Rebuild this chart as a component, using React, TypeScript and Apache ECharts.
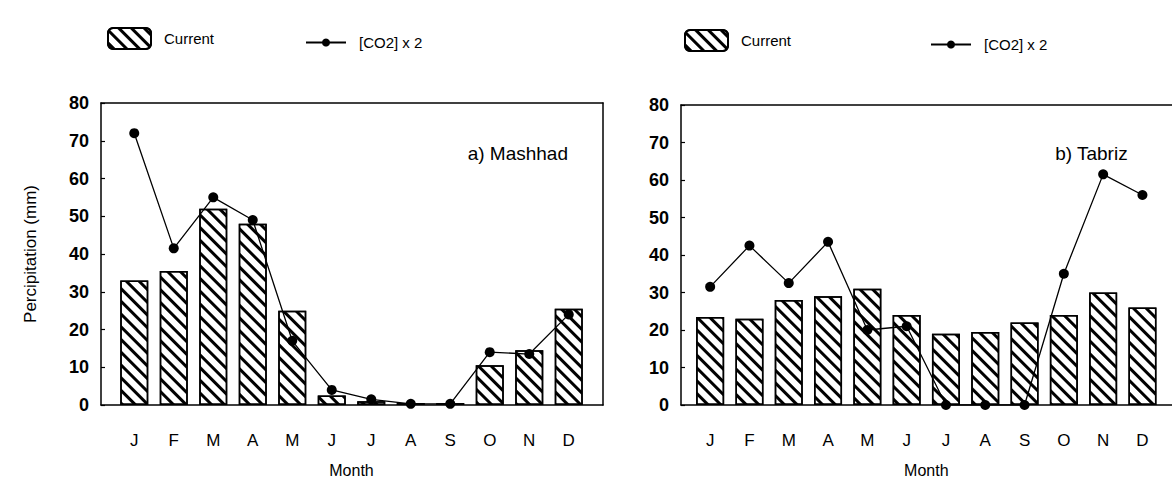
import React, { useEffect, useRef } from "react";
import * as echarts from "echarts";

const months = ["J", "F", "M", "A", "M", "J", "J", "A", "S", "O", "N", "D"];
const yTicks = [0, 10, 20, 30, 40, 50, 60, 70, 80];

const mashhadCurrent = [33, 35.5, 52, 48, 25, 2.5, 1, 0.5, 0.5, 10.5, 14.5, 25.5];
const mashhadCO2 = [72, 41.5, 55, 49, 17, 4, 1.5, 0.3, 0.3, 14, 13.5, 24];

const tabrizCurrent = [23.5, 23, 28, 29, 31, 24, 19, 19.5, 22, 24, 30, 26];
const tabrizCO2 = [31.5, 42.5, 32.5, 43.5, 20, 21, 0, 0, 0, 35, 61.5, 56];

const FONT = "Liberation Sans";

const hatch = {
  symbol: "rect",
  symbolSize: 1,
  dashArrayX: [1, 0],
  dashArrayY: [2.4, 5.6],
  rotation: Math.PI / 4,
  color: "#000",
};

export default function App() {
  const ref = useRef<HTMLDivElement>(null);
  useEffect(() => {
    const chart = echarts.init(ref.current!, null, { renderer: "svg" });

    const frames = [
      { left: 101, top: 103, width: 502, height: 302 },
      { left: 681, top: 105, width: 491, height: 300 },
    ];
    const dataGrids = [
      { left: 114.5, top: 103, width: 474, height: 302 },
      { left: 690.5, top: 105, width: 471.6, height: 300 },
    ];

    const grid: any[] = [];
    const xAxis: any[] = [];
    const yAxis: any[] = [];
    const series: any[] = [];
    const panels = [
      { cur: mashhadCurrent, co2: mashhadCO2, yName: "Percipitation (mm)", closed: true },
      { cur: tabrizCurrent, co2: tabrizCO2, yName: "", closed: false },
    ];
    const blackLine = { show: true, onZero: false, lineStyle: { color: "#000", width: 1.5 } };

    panels.forEach((p, i) => {
      const fi = grid.length;
      grid.push({ ...frames[i], show: false });
      const di = grid.length;
      grid.push({ ...dataGrids[i] });
      xAxis.push({ gridIndex: fi, type: "value", min: 0, max: 1, position: "bottom", axisLine: blackLine, axisTick: { show: false }, axisLabel: { show: false }, splitLine: { show: false } });
      xAxis.push({ gridIndex: fi, type: "value", min: 0, max: 1, position: "top", axisLine: blackLine, axisTick: { show: false }, axisLabel: { show: false }, splitLine: { show: false } });
      yAxis.push({
        gridIndex: fi,
        type: "value",
        position: "left",
        min: yTicks[0],
        max: yTicks[yTicks.length - 1],
        interval: 10,
        axisLine: blackLine,
        axisTick: { show: true, inside: true, length: 4, lineStyle: { color: "#000", width: 1.2 } },
        splitLine: { show: false },
        axisLabel: { color: "#000", fontFamily: FONT, fontSize: 18, fontWeight: "bold", margin: 12 },
        name: p.yName,
        nameLocation: "middle",
        nameGap: 62,
        nameTextStyle: { color: "#000", fontFamily: FONT, fontSize: 17 },
      });
      if (p.closed) {
        yAxis.push({ gridIndex: fi, type: "value", position: "right", min: 0, max: 80, axisLine: blackLine, axisTick: { show: false }, axisLabel: { show: false }, splitLine: { show: false } });
      }
      const dx = xAxis.length;
      xAxis.push({
        gridIndex: di,
        type: "category",
        data: months,
        axisLine: { show: false },
        axisTick: { show: false },
        axisLabel: { color: "#000", fontFamily: FONT, fontSize: 17, margin: 27 },
        name: "Month",
        nameLocation: "middle",
        nameGap: 57,
        nameTextStyle: { color: "#000", fontFamily: FONT, fontSize: 16 },
      });
      const dy = yAxis.length;
      yAxis.push({ gridIndex: di, type: "value", min: 0, max: 80, show: false });
      series.push({
        name: "Current",
        type: "bar",
        xAxisIndex: dx,
        yAxisIndex: dy,
        data: p.cur,
        barWidth: 28,
        itemStyle: { color: "#fff", borderColor: "#000", borderWidth: 1.5, decal: hatch },
        z: 2,
      });
      series.push({
        name: "[CO2] x 2",
        type: "line",
        xAxisIndex: dx,
        yAxisIndex: dy,
        data: p.co2,
        symbol: "circle",
        symbolSize: 10,
        lineStyle: { color: "#000", width: 1.3 },
        itemStyle: { color: "#000" },
        z: 3,
      });
    });

    const legendText = { color: "#000", fontFamily: FONT, fontSize: 15, padding: [0, 0, 0, 8] };
    const legend = [
      { data: ["Current"], left: 107, top: 27, itemWidth: 43, itemHeight: 21, textStyle: legendText },
      { data: ["[CO2] x 2"], left: 305, top: 35, itemWidth: 40, itemHeight: 10, textStyle: legendText },
      { data: ["Current"], left: 684, top: 29, itemWidth: 43, itemHeight: 21, textStyle: legendText },
      { data: ["[CO2] x 2"], left: 930, top: 37, itemWidth: 40, itemHeight: 10, textStyle: legendText },
    ].map((l) => ({ ...l, selectedMode: false, padding: 0 }));

    chart.setOption({
      animation: false,
      backgroundColor: "#fff",
      grid,
      xAxis,
      yAxis,
      series,
      legend,
      graphic: [
        { type: "text", right: 1172 - 568, top: 144, style: { text: "a) Mashhad", font: `19px ${FONT}`, fill: "#000" } },
        { type: "text", right: 1172 - 1128, top: 144, style: { text: "b) Tabriz", font: `19px ${FONT}`, fill: "#000" } },
      ],
    });
    return () => chart.dispose();
  }, []);
  return <div ref={ref} style={{ position: "absolute", left: 0, top: 0, width: 1172, height: 483 }} />;
}
